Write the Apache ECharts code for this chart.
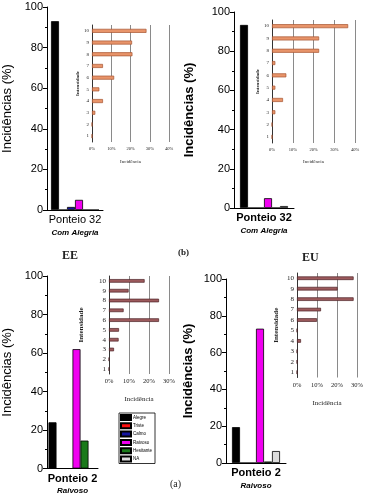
<!DOCTYPE html>
<html>
<head>
<meta charset="utf-8">
<script src="https://cdn.jsdelivr.net/npm/echarts@6/dist/echarts.min.js"></script>
<style>
html,body{margin:0;padding:0;background:#fff;}
#chart{width:373px;height:495px;}
</style>
</head>
<body>
<div id="chart"></div>
<script>
// ---------- data ----------
const emotions = ['Alegre', 'Triste', 'Calmo', 'Raivoso', 'Hesitante', 'NA'];
const panelCategories = ['Ponteio 32', 'Ponteio 32', 'Ponteio 2', 'Ponteio 2'];
const panelSubtitles = ['Com Alegria', 'Com Alegria', 'Raivoso', 'Raivoso'];
const incidenceTopLeft = [93, 0, 1.5, 5, 0, 0];
const incidenceTopRight = [93.4, 0, 0, 5, 0, 1];
const incidenceBottomLeft = [24, 0, 0, 62, 14.5, 0];
const incidenceBottomRight = [19.5, 0, 0, 73, 0.8, 6.5];
const intensityLevels = ['1', '2', '3', '4', '5', '6', '7', '8', '9', '10'];
const intensityTopLeft = [0, 0, 1.7, 5.7, 3.8, 11.5, 5.7, 21, 20.8, 28.3];
const intensityTopRight = [0, 0, 1.6, 5.3, 1.6, 6.9, 1.6, 22.7, 22.7, 36.7];
const intensityBottomLeft = [0, 0, 2.5, 4.8, 5, 25, 7.3, 25, 9.8, 17.8];
const intensityBottomRight = [0, 0, 0, 2, 0, 10, 12, 28.3, 20.3, 28.3];
const incidenceTicks = [0, 20, 40, 60, 80, 100];
const insetMaxTop = 40;
const insetMaxBottom = 30;

// ---------- layout / style ----------
const incidences = [incidenceTopLeft, incidenceTopRight, incidenceBottomLeft, incidenceBottomRight];
const intensities = [intensityTopLeft, intensityTopRight, intensityBottomLeft, intensityBottomRight];
const emotionFill = ['#000000', '#ff1010', '#1414a0', '#f000f0', '#1a7a1a', '#dcdcdc'];

const mainGrids = [
  {left: 43, top: 7, width: 60, height: 203},
  {left: 234, top: 12, width: 60, height: 196},
  {left: 43, top: 276, width: 55, height: 193},
  {left: 226, top: 279, width: 60, height: 184}
];
const insetGrids = [
  {left: 92, top: 25, width: 77, height: 117},
  {left: 272, top: 20, width: 83, height: 123},
  {left: 109, top: 276, width: 60, height: 98},
  {left: 297, top: 273, width: 60, height: 104.5}
];
const mainNameGap = [33, 38, 33, 31];
const mainNameBold = ['normal', 'bold', 'normal', 'bold'];
const catBold = ['normal', 'bold', 'bold', 'bold'];
const insetMax = [insetMaxTop, insetMaxTop, insetMaxBottom, insetMaxBottom];
const insetFont = [5, 5, 7, 7];
const insetXNameGap = [17, 16, 22, 22.5];
const insetYNameGap = [11, 10, 24, 17];
const insetFill = ['#e8946a', '#e8946a', '#9c5a5c', '#9c5a5c'];
const insetBorder = ['#a65430', '#a65430', '#4e2226', '#4e2226'];

const grids = mainGrids.concat(insetGrids);
const xAxes = [];
const yAxes = [];
const series = [];

for (let p = 0; p < 4; p++) {
  xAxes.push({
    type: 'category', gridIndex: p, data: [panelCategories[p]],
    axisLine: {lineStyle: {color: '#000', width: 1}},
    axisTick: {show: false},
    axisLabel: {
      margin: 4, color: '#000',
      formatter: function (v) { return '{a|' + v + '}\n{b|' + panelSubtitles[p] + '}'; },
      rich: {
        a: {fontSize: 11, lineHeight: 12, fontFamily: 'Liberation Sans', fontWeight: catBold[p], color: '#000'},
        b: {fontSize: 8, lineHeight: 13, fontFamily: 'Liberation Sans', fontStyle: 'italic', fontWeight: 'bold', color: '#000'}
      }
    }
  });
  yAxes.push({
    type: 'value', gridIndex: p, min: incidenceTicks[0], max: incidenceTicks[incidenceTicks.length - 1], interval: 20,
    name: 'Incidências (%)', nameLocation: 'middle', nameRotate: 90, nameGap: mainNameGap[p],
    nameTextStyle: {fontSize: 13, fontFamily: 'Liberation Sans', fontWeight: mainNameBold[p], color: '#000'},
    axisLine: {show: true, lineStyle: {color: '#000', width: 1}},
    axisTick: {show: true, length: 4, lineStyle: {color: '#000'}},
    minorTick: {show: true, splitNumber: 2, length: 2, lineStyle: {color: '#000'}},
    splitLine: {show: false},
    axisLabel: {fontSize: 11, fontFamily: 'Liberation Sans', color: '#000', margin: 4}
  });
  for (let e = 0; e < emotions.length; e++) {
    series.push({
      type: 'bar', name: emotions[e], xAxisIndex: p, yAxisIndex: p,
      data: [incidences[p][e]], barWidth: 8, barGap: '0%',
      itemStyle: {color: emotionFill[e], borderColor: '#000', borderWidth: 0.8}
    });
  }
}

for (let i = 0; i < 4; i++) {
  const g = 4 + i;
  xAxes.push({
    type: 'value', gridIndex: g, min: 0, max: insetMax[i], interval: 10,
    name: 'Incidência', nameLocation: 'middle', nameGap: insetXNameGap[i],
    nameTextStyle: {fontSize: insetFont[i], fontFamily: 'Liberation Serif', color: '#222'},
    axisLine: {show: false}, axisTick: {show: false},
    splitLine: {show: true, lineStyle: {color: '#8a8a8a', width: 1}},
    axisLabel: {fontSize: insetFont[i] - 0.5, fontFamily: 'Liberation Serif', color: '#222', margin: 4, formatter: '{value}%'}
  });
  yAxes.push({
    type: 'category', gridIndex: g, data: intensityLevels,
    name: 'Intensidade', nameLocation: 'middle', nameRotate: 90, nameGap: insetYNameGap[i],
    nameTextStyle: {fontSize: insetFont[i], fontFamily: 'Liberation Serif', fontWeight: 'bold', color: '#222'},
    axisLine: {show: true, lineStyle: {color: '#333', width: 1}},
    axisTick: {show: false},
    axisLabel: {fontSize: insetFont[i], fontFamily: 'Liberation Serif', color: '#222', margin: 3}
  });
  series.push({
    type: 'bar', name: 'inset' + i, xAxisIndex: g, yAxisIndex: g,
    data: intensities[i], barWidth: i < 2 ? 4 : 3.6,
    itemStyle: {color: insetFill[i], borderColor: insetBorder[i], borderWidth: 0.7}
  });
}

const chart = echarts.init(document.getElementById('chart'), null, {renderer: 'canvas'});
chart.setOption({
  backgroundColor: '#fff',
  animation: false,
  grid: grids.map(g => Object.assign({containLabel: false}, g)),
  xAxis: xAxes,
  yAxis: yAxes,
  series: series,
  legend: {
    data: emotions, orient: 'vertical', left: 119, top: 413,
    itemWidth: 10, itemHeight: 5, itemGap: 1.3, selectedMode: false,
    padding: [1, 3, 1, 1], borderColor: '#000', borderWidth: 0.8, backgroundColor: '#fff',
    icon: 'rect',
    textStyle: {fontSize: 4.5, fontFamily: 'Liberation Sans', color: '#000', padding: [0, 0, 0, -3]}
  },
  graphic: [
    {type: 'text', left: 62, top: 250, style: {text: 'EE', font: 'bold 12px "Liberation Serif"', fill: '#222'}},
    {type: 'text', left: 178, top: 248, style: {text: '(b)', font: 'bold 9px "Liberation Serif"', fill: '#222'}},
    {type: 'text', left: 302, top: 252, style: {text: 'EU', font: 'bold 12px "Liberation Serif"', fill: '#222'}},
    {type: 'text', left: 170, top: 479, style: {text: '(a)', font: '10px "Liberation Serif"', fill: '#222'}}
  ]
});
</script>
</body>
</html>
